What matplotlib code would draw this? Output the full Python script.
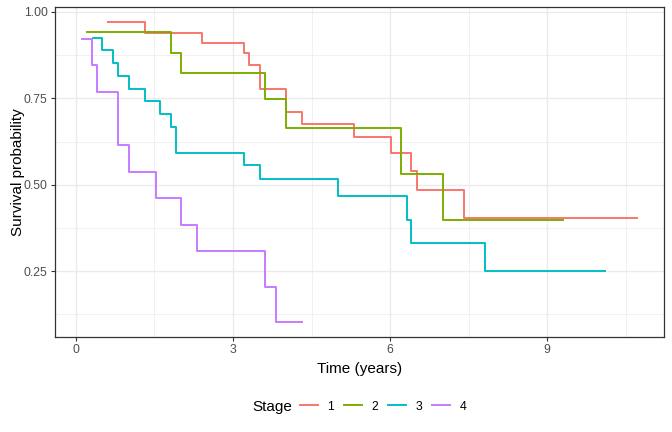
import numpy as np
import matplotlib.pyplot as plt
from matplotlib.lines import Line2D
from matplotlib.ticker import MultipleLocator, FuncFormatter

plt.rcParams['font.family'] = ['Liberation Sans', 'DejaVu Sans']

# Kaplan-Meier style step curves
stage_labels = ["1", "2", "3", "4"]
stage_colors = ["#F8766D", "#7CAE00", "#00BFC4", "#C77CFF"]

time_1 = [0.62, 1.31, 2.41, 3.21, 3.31, 3.51, 4.01, 4.31, 5.31, 6.01, 6.41, 6.52, 7.41, 10.71]
surv_1 = [0.970, 0.940, 0.910, 0.880, 0.846, 0.778, 0.710, 0.675, 0.639, 0.593, 0.540, 0.484, 0.403, 0.403]

time_2 = [0.22, 1.81, 2.01, 3.61, 4.01, 6.21, 7.02, 9.31]
surv_2 = [0.941, 0.882, 0.824, 0.749, 0.665, 0.532, 0.399, 0.399]

time_3 = [0.32, 0.50, 0.71, 0.81, 1.01, 1.31, 1.61, 1.81, 1.91, 3.21, 3.52, 5.01, 6.32, 6.41, 7.82, 10.11]
surv_3 = [0.926, 0.889, 0.852, 0.815, 0.778, 0.741, 0.704, 0.667, 0.593, 0.556, 0.518, 0.466, 0.399, 0.332, 0.249, 0.249]

time_4 = [0.12, 0.31, 0.40, 0.81, 1.01, 1.52, 2.01, 2.31, 3.61, 3.82, 4.31]
surv_4 = [0.923, 0.846, 0.769, 0.615, 0.538, 0.461, 0.384, 0.307, 0.204, 0.102, 0.102]

times = [time_1, time_2, time_3, time_4]
survs = [surv_1, surv_2, surv_3, surv_4]

fig = plt.figure(figsize=(6.72, 4.32), dpi=100)
ax = fig.add_axes([54.5 / 672, 1 - 337.3 / 432, (664.3 - 54.5) / 672, (337.3 - 7.3) / 432])

for t, s, c in zip(times, survs, stage_colors):
    ax.step(t, s, where="post", color=c, lw=1.4, zorder=3)

# ggplot-like expansion (5%)
all_t = np.concatenate([np.array(t) for t in times])
all_s = np.concatenate([np.array(s) for s in survs])
tr = all_t.max() - all_t.min()
sr = all_s.max() - all_s.min()
ax.set_xlim(all_t.min() - 0.05 * tr, all_t.max() + 0.05 * tr)
ax.set_ylim(all_s.min() - 0.05 * sr, all_s.max() + 0.05 * sr)

ax.xaxis.set_major_locator(MultipleLocator(3))
ax.xaxis.set_minor_locator(MultipleLocator(1.5))
ax.yaxis.set_major_locator(MultipleLocator(0.25))
ax.yaxis.set_minor_locator(MultipleLocator(0.125))
ax.yaxis.set_major_formatter(FuncFormatter(lambda v, p: f"{v:.2f}"))
ax.xaxis.set_major_formatter(FuncFormatter(lambda v, p: f"{v:g}"))

ax.grid(which="major", color="#EBEBEB", lw=1.0, zorder=0)
ax.grid(which="minor", color="#EBEBEB", lw=0.5, zorder=0)
ax.set_axisbelow(True)
for sp in ax.spines.values():
    sp.set_color("#333333")
    sp.set_linewidth(0.9)
ax.tick_params(which="major", length=3, width=0.8, color="#333333",
               labelsize=8.8, labelcolor="#4D4D4D", pad=2)
ax.tick_params(which="minor", length=0)

ax.set_xlabel("Time (years)", fontsize=11, color="black", labelpad=4)
ax.set_ylabel("Survival probability", fontsize=11, color="black", labelpad=-1)

# legend at the bottom with title on the left
handles = [Line2D([], [], color=c, lw=1.4) for c in stage_colors]
fig.text(252 / 672, 1 - 406.5 / 432, "Stage", fontsize=11, va="center", ha="left")
fig.legend(handles, stage_labels, loc="center left", bbox_to_anchor=(300 / 672, 1 - 406.5 / 432),
           ncol=4, frameon=False, fontsize=8.8, handlelength=1.45, handletextpad=0.8,
           columnspacing=0.8, borderpad=0, borderaxespad=0)

fig.savefig("out.png", dpi=100)
